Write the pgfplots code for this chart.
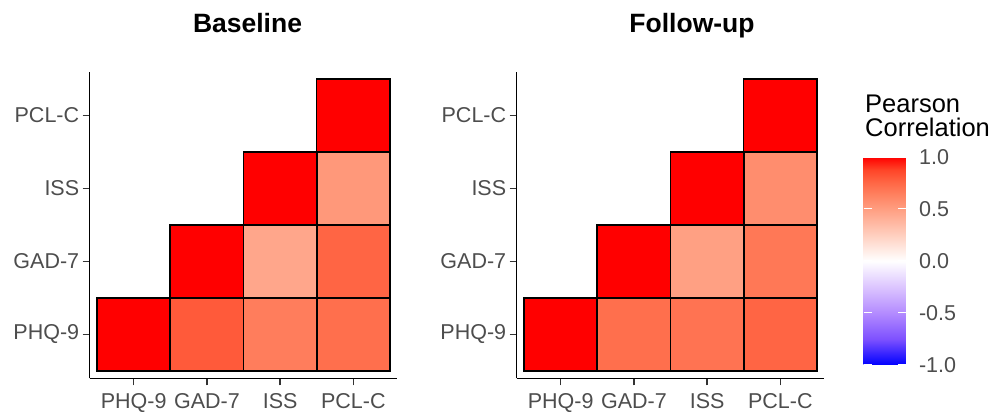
\documentclass[border=0pt]{standalone}
\usepackage{fontspec}
\setmainfont{Liberation Sans}
\usepackage{pgfplots}
\pgfplotsset{compat=1.18}
\usepackage{pgfplotstable}
\definecolor{gtxt}{HTML}{4D4D4D}
\newcommand\tickfont{\fontsize{21.5}{24}\selectfont}
\newcommand\titlefont{\fontsize{26.5}{30}\selectfont\bfseries}
\newcommand\legfont{\fontsize{25.5}{25}\selectfont}

\pgfplotstableread{
x y r
1 1 1
2 1 0.80
3 1 0.655
4 1 0.72
2 2 1
3 2 0.46
4 2 0.76
3 3 1
4 3 0.53
4 4 1
}\baseline

\pgfplotstableread{
x y r
1 1 1
2 1 0.72
3 1 0.70
4 1 0.76
2 2 1
3 2 0.49
4 2 0.68
3 3 1
4 3 0.58
4 4 1
}\followup

\pgfplotsset{
  heat/.style={
    width=307.6pt, height=306.6pt, scale only axis,
    xmin=0.4, xmax=4.6, ymin=0.4, ymax=4.6,
    axis x line*=bottom, axis y line*=left,
    axis line style={line width=1.3pt, black, -},
    xtick={1,2,3,4}, ytick={1,2,3,4},
    xticklabels={PHQ-9,GAD-7,ISS,PCL-C},
    yticklabels={PHQ-9,GAD-7,ISS,PCL-C},
    tick align=outside, major tick length=7pt,
    tick style={line width=1.3pt, black!80},
    tick label style={font=\tickfont, text=gtxt},
    xticklabel style={yshift=-5pt},
    colormap={ggrb}{rgb255(0cm)=(0,0,255); rgb255(1cm)=(126,81,255); rgb255(2cm)=(179,139,255); rgb255(3cm)=(220,197,255); rgb255(4cm)=(255,255,255); rgb255(5cm)=(255,207,191); rgb255(6cm)=(255,158,129); rgb255(6.5cm)=(255,132,99); rgb255(7cm)=(255,104,70); rgb255(7.5cm)=(255,69,40); rgb255(8cm)=(255,0,0)},
    point meta min=-1, point meta max=1,
  },
  tiles/.style={scatter, only marks, mark=square*, mark size=36.65pt,
    point meta=explicit,
    scatter/use mapped color={draw=black, fill=mapped color},
    mark options={line width=1.5pt}},
  borders/.style={only marks, mark=square, mark size=36.65pt,
    mark options={draw=black, fill=none, line width=1.5pt}},
}

\begin{document}
\begin{tikzpicture}
\useasboundingbox (0,0) rectangle (994pt,412pt);
\begin{axis}[heat, at={(89.7pt,33.7pt)}, anchor=south west]
\addplot[tiles] table[x=x, y=y, meta=r] {\baseline};
\addplot[borders] table[x=x, y=y] {\baseline};
\end{axis}
\begin{axis}[heat, at={(516.7pt,33.7pt)}, anchor=south west,
  colorbar,
  colorbar/width=42pt,
  colorbar style={
    at={(parent axis.north east)}, anchor=north west,
    xshift=30.7pt, yshift=-85.3pt,
    width=42pt, height=208pt, scale only axis,
    xtick=\empty,
    ytick={-1,-0.5,0,0.5,1},
    yticklabels={-1.0,-0.5,0.0,0.5,1.0},
    axis line style={draw=none},
    tick align=inside, major tick length=8pt,
    ytick pos=both, yticklabel pos=right,
    ytick style={draw=white, line width=1pt},
    yticklabel style={font=\tickfont, text=gtxt, anchor=west, xshift=10pt},
  }]
\addplot[tiles] table[x=x, y=y, meta=r] {\followup};
\addplot[borders] table[x=x, y=y] {\followup};
\end{axis}
\node[anchor=base, inner sep=0pt, font=\titlefont] at (247.5pt,379pt) {Baseline};
\node[anchor=base, inner sep=0pt, font=\titlefont] at (692pt,379pt) {Follow-up};
\node[anchor=base west, inner sep=0pt, font=\legfont] at (865pt,299pt) {Pearson};
\node[anchor=base west, inner sep=0pt, font=\legfont] at (865pt,275pt) {Correlation};
\end{tikzpicture}
\end{document}
